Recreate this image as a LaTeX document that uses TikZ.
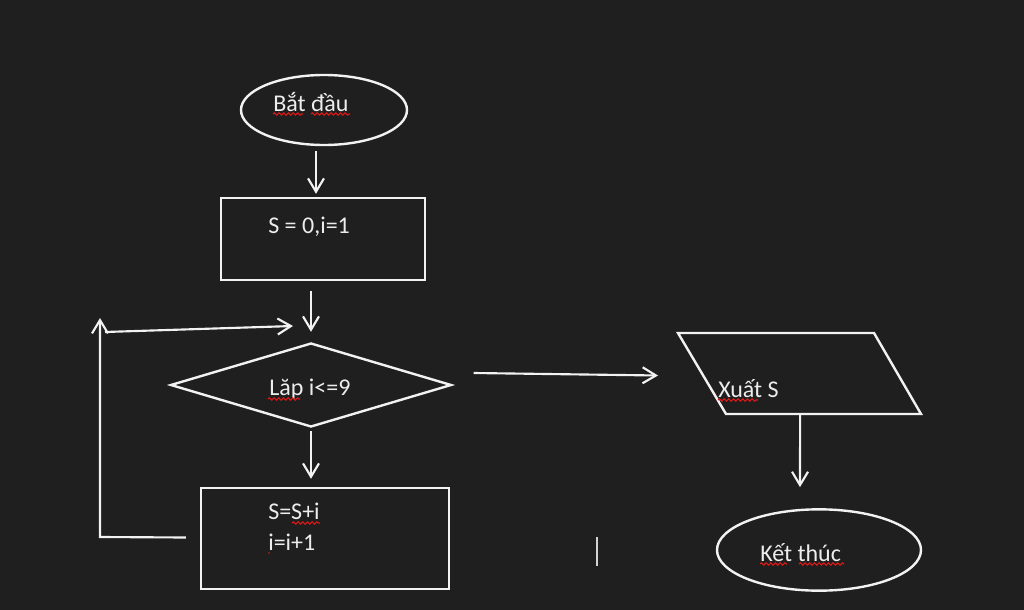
\documentclass[tikz,border=0pt]{standalone}
\usepackage{fontspec}
\setmainfont{Carlito}
\usetikzlibrary{shapes.geometric,arrows.meta,calc,decorations.pathmorphing}
\definecolor{bg}{HTML}{201F1F}
\definecolor{fg}{HTML}{F2F2F2}
\definecolor{txt}{HTML}{EDEDED}
\definecolor{squig}{HTML}{E01818}
\tikzset{
  shp/.style={draw=fg, line width=1.8pt, inner sep=0pt},
  lbl/.style={text=txt, font=\fontsize{18}{20}\selectfont, inner sep=0pt, anchor=base west},
  arr/.style={draw=fg, line width=1.6pt, -{Straight Barb[length=10pt,width=12pt,line width=1.6pt]}},
  ln/.style={draw=fg, line width=1.6pt},
  wavy/.style={draw=squig, line width=0.8pt, decorate, decoration={snake, amplitude=0.9pt, segment length=3.5pt}}
}
\begin{document}
\begin{tikzpicture}[x=0.75pt,y=-0.75pt]
\fill[bg] (0,0) rectangle (1024,610);
\useasboundingbox (0,0) rectangle (1024,610);

% shapes
\node[shp, ellipse, minimum width=124.5pt, minimum height=52.5pt] (start) at (324,110) {};
\node[shp, rectangle, minimum width=153pt, minimum height=61.5pt] (init) at (323,239) {};
\node[shp, diamond, minimum width=210.75pt, minimum height=63pt] (cond) at (311,385) {};
\node[shp, rectangle, minimum width=186pt, minimum height=75.75pt] (body) at (325,538.5) {};
\coordinate (p1) at (678,333);
\coordinate (p2) at (874,333);
\coordinate (p3) at (921,414);
\coordinate (p4) at (726,414);
\draw[shp, line join=miter] (p1) -- (p2) -- (p3) -- (p4) -- cycle;
\node[inner sep=0pt, minimum width=1pt] (outp) at (800,373.5) {};
\node[shp, ellipse, minimum width=153pt, minimum height=61pt] (stop) at (819,550) {};

% labels
\node[lbl] (t1) at (273,111) {Bắt đầu};
\node[lbl] (t2) at (268,233) {S = 0,i=1};
\node[lbl] (t3) at (269,395) {Lăp i<=9};
\node[lbl] (t4) at (268,519) {S=S+i};
\node[lbl] (t5) at (268,550) {i=i+1};
\node[lbl] (t6) at (718,397) {Xuất S};
\node[lbl] (t7) at (760,561) {Kết thúc};

% spell-check squiggles
\draw[wavy] (273,114) -- (303,114);
\draw[wavy] (311,114) -- (350,114);
\draw[wavy] (268,399) -- (300,399);
\draw[wavy] (292,523) -- (320,523);
\draw[wavy] (718,400) -- (758,400);
\draw[wavy] (760,564) -- (787,564);
\draw[wavy] (799,564) -- (844,564);
\fill[squig] (269,553) circle (0.9);

% connectors
\draw[arr] ($(start.south)+(-8,5)$) -- ($(init.north)+(-7,-3)$);
\draw[arr] ($(init.south)+(-12,10)$) -- ($(cond.north)+(0,-10)$);
\draw[arr] ($(cond.south)+(0,3)$) -- ($(body.north)+(-14,-8)$);
\coordinate (lp1) at (100,537);
\coordinate (lp2) at (100,318);
\draw[arr, line join=miter] ($(body.west)+(-14,-1)$) -- (lp1) -- (lp2);
\coordinate (lp3) at (105,332);
\coordinate (lp4) at (293,326);
\draw[arr] (lp3) -- (lp4);
\draw[arr] ($(cond.east)+(21,-12)$) -- ($(p1)!0.5!(p4)+(-44,2)$);
\draw[arr] ($(p3)!0.62!(p4)+(0,1)$) -- ($(stop.north)+(-19,-21)$);

% text cursor
\coordinate (c1) at (597,537);
\coordinate (c2) at (597,566);
\draw[draw=fg!85!bg, line width=1.1pt] (c1) -- (c2);
\end{tikzpicture}
\end{document}
